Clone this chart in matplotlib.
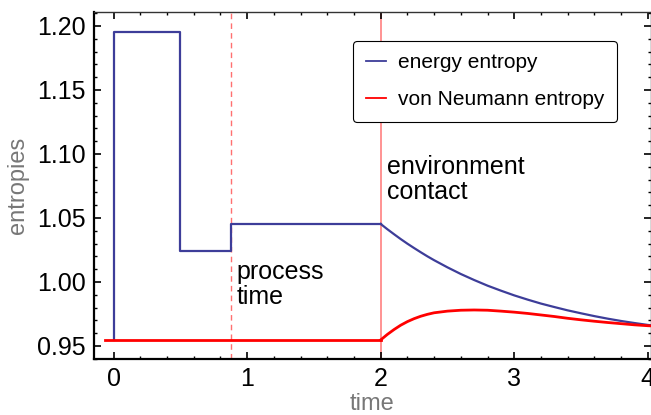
import matplotlib
matplotlib.use("Agg")
import matplotlib.pyplot as plt
from matplotlib.ticker import MultipleLocator, FormatStrFormatter

plt.rcParams['font.family'] = ['Liberation Sans', 'DejaVu Sans']

# --- data ---
# energy entropy: piecewise constant part (breakpoints, levels)
step_t = [0.0, 0.0, 0.5, 0.88, 2.0]
step_v = [0.955, 1.1955, 1.0245, 1.0453, 1.0453]

# after environment contact
decay_t = [2.0, 2.05, 2.1, 2.15, 2.2, 2.25, 2.3, 2.35, 2.4, 2.5, 2.6, 2.7,
           2.8, 2.9, 3.0, 3.1, 3.2, 3.3, 3.4, 3.5, 3.6, 3.7, 3.8, 3.9,
           4.0, 4.02]
energy_decay = [1.0453, 1.0412, 1.0373, 1.0335, 1.0299, 1.0265, 1.0232,
                1.0200, 1.0170, 1.0114, 1.0062, 1.0015, 0.9971, 0.9932,
                0.9895, 0.9862, 0.9831, 0.9804, 0.9778, 0.9755, 0.9733,
                0.9713, 0.9695, 0.9679, 0.9664, 0.9662]
vn_decay = [0.9547, 0.9590, 0.9628, 0.9662, 0.9690, 0.9713, 0.9732,
            0.9747, 0.9759, 0.9772, 0.9779, 0.9781, 0.9779, 0.9772,
            0.9764, 0.9754, 0.9742, 0.9730, 0.9716, 0.9704, 0.9693,
            0.9683, 0.9674, 0.9665, 0.9658, 0.9657]
vn_flat_t = [-0.06, 2.0]
vn_flat_v = [0.9547, 0.9547]

process_time = 0.88
contact_time = 2.0

blue = '#3d3d99'
red = '#ff0000'

fig = plt.figure(figsize=(6.51, 4.15), dpi=100)
ax = fig.add_axes([94/651, (415-359)/415, (650.5-94)/651, (359-12)/415])

ax.axvline(process_time, color='#ff7070', lw=1.0, ls=(0, (4, 3)), zorder=1)
ax.axvline(contact_time, color='#ff8080', lw=1.2, zorder=1)

ax.plot(step_t, step_v, drawstyle='steps-post', color=blue, lw=1.6, zorder=3)
ax.plot(decay_t, energy_decay, color=blue, lw=1.6, zorder=3)
ax.plot(vn_flat_t, vn_flat_v, color=red, lw=2.0, zorder=4)
ax.plot(decay_t, vn_decay, color=red, lw=2.0, zorder=4)

ax.set_xlim(-0.146, 4.02)
ax.set_ylim(0.9398, 1.2109)

ax.xaxis.set_major_locator(MultipleLocator(1))
ax.xaxis.set_minor_locator(MultipleLocator(0.2))
ax.yaxis.set_major_locator(MultipleLocator(0.05))
ax.yaxis.set_minor_locator(MultipleLocator(0.01))
ax.yaxis.set_major_formatter(FormatStrFormatter('%.2f'))

ax.tick_params(which='both', direction='in', top=True, right=True,
               labelsize=18, colors='black', pad=6)
ax.tick_params(which='major', length=5, width=1.2)
ax.tick_params(which='minor', length=2.5, width=1.0)

for s in ['left', 'bottom']:
    ax.spines[s].set_linewidth(1.6)
for s in ['top', 'right']:
    ax.spines[s].set_linewidth(1.0)
    ax.spines[s].set_color('#333333')

ax.set_xlabel('time', fontsize=17, color='#777777', labelpad=1)
ax.set_ylabel('entropies', fontsize=17, color='#777777', labelpad=6)

ax.text(0.92, 0.979, 'process\ntime', fontsize=18, va='bottom', ha='left',
        linespacing=1.05)
ax.text(2.05, 1.061, 'environment\ncontact', fontsize=18, va='bottom', ha='left',
        linespacing=1.05)

h1, = ax.plot([], [], color=blue, lw=1.3)
h2, = ax.plot([], [], color=red, lw=1.3)
leg = ax.legend([h1, h2], ['energy entropy', 'von Neumann entropy'],
                loc='upper left',
                bbox_to_anchor=((353-94)/556.5, 1 - (41-12)/347),
                bbox_transform=ax.transAxes, fontsize=15, frameon=True,
                fancybox=True, edgecolor='black', framealpha=1,
                handlelength=1.0, handletextpad=0.55, labelspacing=0.85,
                borderpad=0.6, borderaxespad=0)
leg.get_frame().set_linewidth(0.8)

fig.savefig('out.png', dpi=100)
